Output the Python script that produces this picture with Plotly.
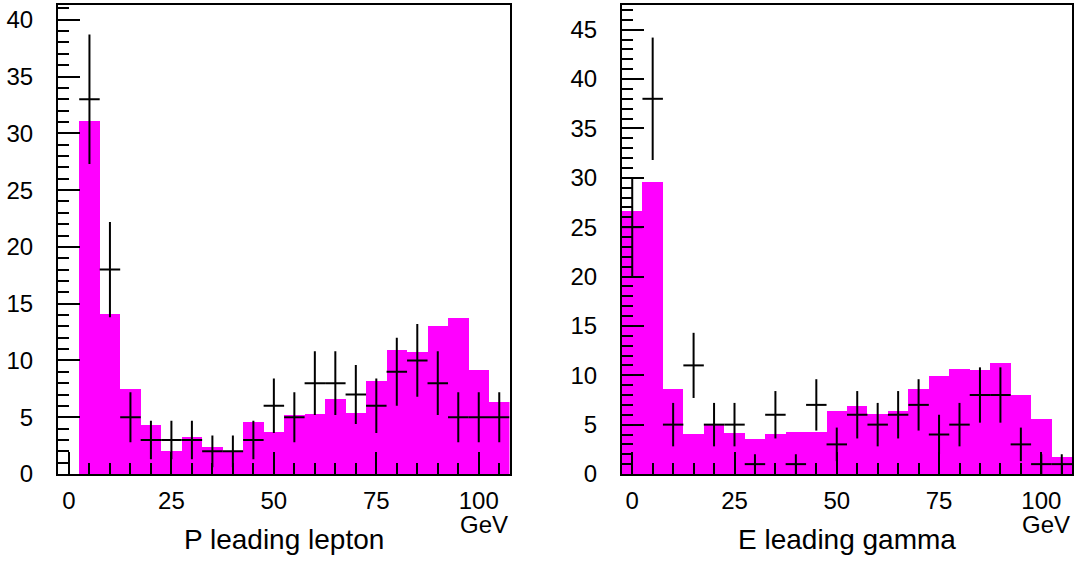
import plotly.graph_objects as go

# ---------------- data ----------------
# Left panel: P leading lepton (GeV), 5 GeV bins
lep_mc_centers = [5, 10, 15, 20, 25, 30, 35, 40, 45, 50, 55, 60, 65, 70, 75, 80, 85, 90, 95, 100, 105]
lep_mc_values = [31.1, 14.1, 7.5, 4.3, 2.0, 3.3, 2.4, 2.0, 4.6, 3.7, 5.2, 5.3, 6.6, 5.4, 8.2, 10.9, 10.7, 13.0, 13.7, 9.2, 6.3]
lep_data_centers = [5, 10, 15, 20, 25, 30, 35, 40, 45, 50, 55, 60, 65, 70, 75, 80, 85, 90, 95, 100, 105]
lep_data_values = [33, 18, 5, 3, 3, 3, 2, 2, 3, 6, 5, 8, 8, 7, 6, 9, 10, 8, 5, 5, 5]
lep_data_errors = [5.7, 4.2, 2.2, 1.7, 1.7, 1.7, 1.4, 1.4, 1.7, 2.4, 2.2, 2.8, 2.8, 2.6, 2.4, 3.0, 3.2, 2.8, 2.2, 2.2, 2.2]

# Right panel: E leading gamma (GeV), 5 GeV bins
gam_mc_centers = [0, 5, 10, 15, 20, 25, 30, 35, 40, 45, 50, 55, 60, 65, 70, 75, 80, 85, 90, 95, 100, 105]
gam_mc_values = [26.6, 29.6, 8.6, 4.1, 5.1, 4.2, 3.5, 4.1, 4.3, 4.3, 6.4, 6.9, 6.1, 6.4, 8.6, 9.9, 10.6, 10.5, 11.2, 8.0, 5.6, 1.7]
gam_data_centers = [0, 5, 10, 15, 20, 25, 30, 35, 40, 45, 50, 55, 60, 65, 70, 75, 80, 85, 90, 95, 100, 105]
gam_data_values = [25, 38, 5, 11, 5, 5, 1, 6, 1, 7, 3, 6, 5, 6, 7, 4, 5, 8, 8, 3, 1, 1]
gam_data_errors = [5.0, 6.2, 2.2, 3.3, 2.2, 2.2, 1.0, 2.4, 1.0, 2.6, 1.7, 2.4, 2.2, 2.4, 2.6, 2.0, 2.2, 2.8, 2.8, 1.7, 1.0, 1.0]

x_titles = ["P leading lepton", "E leading gamma"]
unit_label = "GeV"

# ---------------- figure ----------------
MAGENTA = "#ff00ff"
FONT = "Liberation Sans, Arial, sans-serif"

fig = go.Figure()

panels = [
    (lep_mc_centers, lep_mc_values, lep_data_centers, lep_data_values, lep_data_errors, "x", "y"),
    (gam_mc_centers, gam_mc_values, gam_data_centers, gam_data_values, gam_data_errors, "x2", "y2"),
]

for mc_x, mc_y, d_x, d_y, d_err, xa, ya in panels:
    fig.add_trace(go.Bar(
        x=mc_x, y=mc_y, width=5,
        marker=dict(color=MAGENTA, line=dict(width=0)),
        xaxis=xa, yaxis=ya, showlegend=False, hoverinfo="skip",
    ))
    fig.add_trace(go.Scatter(
        x=d_x, y=d_y, mode="markers",
        marker=dict(color="rgba(0,0,0,0)", size=2),
        error_x=dict(type="constant", value=2.5, width=0, thickness=2, color="black"),
        error_y=dict(type="data", array=d_err, width=0, thickness=2, color="black"),
        xaxis=xa, yaxis=ya, showlegend=False,
    ))

W, H = 1080, 561
left_dom = [57.9 / W, 509.5 / W]
right_dom = [622.0 / W, 1072.0 / W]
ydom = [(H - 474.0) / H, (H - 5.0) / H]

def xaxis_cfg(dom, rng, anchor):
    return dict(
        domain=dom, range=rng, anchor=anchor, automargin=False,
        showline=True, linecolor="black", linewidth=2, mirror=True,
        showgrid=False, zeroline=False,
        ticks="inside", ticklen=22, tickwidth=2, tickcolor="black",
        tick0=0, dtick=25,
        minor=dict(ticks="inside", ticklen=11, tickwidth=2, tickcolor="black", dtick=5, tick0=0, showgrid=False),
        tickfont=dict(family=FONT, size=24, color="black"),
        ticklabelstandoff=4,
    )

def yaxis_cfg(rng, anchor):
    return dict(
        domain=ydom, range=rng, anchor=anchor, automargin=False,
        showline=True, linecolor="black", linewidth=2, mirror=True,
        showgrid=False, zeroline=False,
        ticks="inside", ticklen=22, tickwidth=2, tickcolor="black",
        tick0=0, dtick=5,
        minor=dict(ticks="inside", ticklen=11, tickwidth=2, tickcolor="black", dtick=1, tick0=0, showgrid=False),
        tickfont=dict(family=FONT, size=24, color="black"),
        ticklabelstandoff=18,
    )

fig.update_layout(
    width=W, height=H,
    margin=dict(l=0, r=0, t=0, b=0, autoexpand=False),
    paper_bgcolor="white", plot_bgcolor="white",
    bargap=0, barmode="overlay",
    xaxis=xaxis_cfg(left_dom, [-2.7, 107.5], "y"),
    yaxis=yaxis_cfg([0, 41.3], "x"),
    xaxis2=xaxis_cfg(right_dom, [-2.5, 107.5], "y2"),
    yaxis2=yaxis_cfg([0, 47.5], "x2"),
    font=dict(family=FONT, color="black"),
)

for dom, title in [(left_dom, x_titles[0]), (right_dom, x_titles[1])]:
    fig.add_annotation(
        text=title, xref="paper", yref="paper",
        x=(dom[0] + dom[1]) / 2, y=(H - 539.0) / H,
        xanchor="center", yanchor="middle", showarrow=False,
        font=dict(family=FONT, size=28, color="black"),
    )
    fig.add_annotation(
        text=unit_label, xref="paper", yref="paper",
        x=dom[1], y=(H - 524.0) / H,
        xanchor="right", yanchor="middle", showarrow=False,
        font=dict(family=FONT, size=24, color="black"),
    )

fig.write_html(
    "out.html",
    config={"displayModeBar": False},
    post_script="document.body.style.margin='0px';",
)
